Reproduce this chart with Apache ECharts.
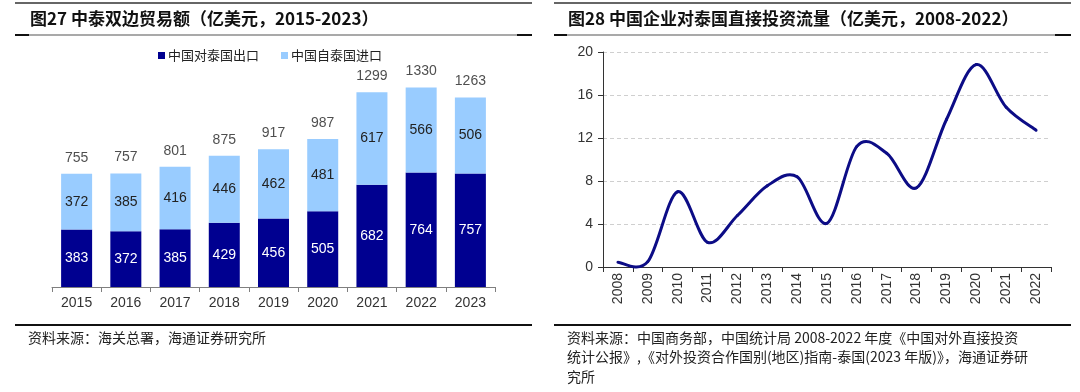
<!DOCTYPE html>
<html>
<head>
<meta charset="utf-8">
<script src="https://cdn.jsdelivr.net/npm/echarts@6/dist/echarts.min.js"></script>
<style>
html,body{margin:0;padding:0;background:#fff;}
#c{width:1080px;height:392px;}
</style>
</head>
<body>
<div id="c"></div>
<script>
// Left chart data
const tradeYears = ['2015','2016','2017','2018','2019','2020','2021','2022','2023'];
const exportToThai = [383,372,385,429,456,505,682,764,757];
const importFromThai = [372,385,416,446,462,481,617,566,506];
const tradeTotal = [755,757,801,875,917,987,1299,1330,1263];
// Right chart data
const fdiYears = ['2008','2009','2010','2011','2012','2013','2014','2015','2016','2017','2018','2019','2020','2021','2022'];
const fdiFlow = [0.45,0.50,7.00,2.30,4.79,7.55,8.39,4.07,11.22,10.58,7.37,13.72,18.83,14.86,12.72];
const fdiTicks = [0,4,8,12,16,20];

const FONT = 'Liberation Sans, Arial, "Noto Sans CJK SC", sans-serif';
const CJK = '"Noto Sans CJK SC", "Liberation Sans", sans-serif';
const chart = echarts.init(document.getElementById('c'));

function hline(x1, x2, y, color, w) {
  return {type:'line', shape:{x1:x1, y1:y, x2:x2, y2:y}, style:{stroke:color, lineWidth:w}, silent:true};
}
function txt(x, y, s, size, weight, color) {
  return {type:'text', x:x, y:y, style:{text:s, font: (weight||'normal') + ' ' + size + 'px ' + CJK, fill:color||'#222', textVerticalAlign:'middle'}, silent:true};
}

// Catmull-Rom style smoothed segment between point i and i+1 (Excel-like smoothing)
function renderSmoothSegment(params, api) {
  const i = params.dataIndex;
  const n = fdiFlow.length;
  if (i >= n - 1) return null;
  const P = k => api.coord([Math.min(Math.max(k, 0), n - 1), fdiFlow[Math.min(Math.max(k, 0), n - 1)]]);
  const p0 = P(i - 1), p1 = P(i), p2 = P(i + 1), p3 = P(i + 2);
  const t = 6;
  return {
    type:'bezierCurve',
    shape:{
      x1:p1[0], y1:p1[1], x2:p2[0], y2:p2[1],
      cpx1:p1[0] + (p2[0] - p0[0]) / t, cpy1:p1[1] + (p2[1] - p0[1]) / t,
      cpx2:p2[0] - (p3[0] - p1[0]) / t, cpy2:p2[1] - (p3[1] - p1[1]) / t
    },
    style:{stroke:'#0c0c86', lineWidth:3, fill:null, lineCap:'round'}
  };
}

const option = {
  animation:false,
  textStyle:{fontFamily:FONT},
  legend:{
    data:['中国对泰国出口','中国自泰国进口'],
    left:153, top:44,
    itemWidth:7, itemHeight:7, itemGap:22,
    icon:'rect',
    textStyle:{fontSize:13, color:'#222', fontFamily:CJK, padding:[0,0,0,-2]}
  },
  grid:[
    {left:52, right:585, top:47, bottom:105},
    {left:603, right:29, top:52, bottom:125}
  ],
  xAxis:[
    {gridIndex:0, type:'category', data:tradeYears,
     axisLine:{lineStyle:{color:'#7f7f7f', width:1}},
     axisTick:{show:true, length:5, lineStyle:{color:'#7f7f7f'}},
     axisLabel:{fontSize:14, color:'#333', margin:9, fontFamily:FONT}},
    {gridIndex:1, type:'category', data:fdiYears, boundaryGap:true,
     axisLine:{lineStyle:{color:'#333', width:1}},
     axisTick:{show:true, length:5, lineStyle:{color:'#333'}},
     axisLabel:{fontSize:14, color:'#333', rotate:90, margin:6, fontFamily:FONT}}
  ],
  yAxis:[
    {gridIndex:0, type:'value', min:0, max:1600, show:false, splitLine:{show:false}},
    {gridIndex:1, type:'value', min:fdiTicks[0], max:fdiTicks[fdiTicks.length-1], interval:4,
     axisLine:{show:true, lineStyle:{color:'#333'}},
     axisTick:{show:true, length:5, inside:false, lineStyle:{color:'#333'}},
     axisLabel:{fontSize:14, color:'#333', margin:10, fontFamily:FONT},
     splitLine:{show:true, lineStyle:{color:'#cfcfcf', type:[4,3], width:1}}}
  ],
  series:[
    {name:'中国对泰国出口', type:'bar', stack:'t', xAxisIndex:0, yAxisIndex:0,
     data:exportToThai, barWidth:31, itemStyle:{color:'#000090'},
     label:{show:true, position:'inside', color:'#fff', fontSize:14, fontFamily:FONT}},
    {name:'中国自泰国进口', type:'bar', stack:'t', xAxisIndex:0, yAxisIndex:0,
     data:importFromThai, barWidth:31, itemStyle:{color:'#99ccff'},
     label:{show:true, position:'inside', color:'#222', fontSize:14, fontFamily:FONT}},
    {name:'total', type:'scatter', xAxisIndex:0, yAxisIndex:0,
     data:tradeTotal, symbolSize:0, silent:true,
     label:{show:true, position:'top', distance:9, color:'#222', fontSize:14, fontFamily:FONT}},
    {name:'fdi', type:'custom', xAxisIndex:1, yAxisIndex:1,
     data:fdiFlow.map((v, i) => [i, v]),
     encode:{x:0, y:1},
     clip:false,
     renderItem:renderSmoothSegment}
  ],
  graphic:[
    hline(15, 532, 3, '#333', 1.5),
    hline(15, 532, 35, '#8c8c8c', 1.5),
    hline(15, 29, 35, '#111', 2),
    hline(517, 532, 35, '#111', 2),
    hline(15, 532, 325, '#111', 2),
    hline(554, 1071, 3, '#333', 1.5),
    hline(554, 1071, 35, '#8c8c8c', 1.5),
    hline(554, 567, 35, '#111', 2),
    hline(1055, 1071, 35, '#111', 2),
    hline(554, 1071, 325, '#111', 2),
    txt(30, 19, '图27 中泰双边贸易额（亿美元，2015-2023）', 17, 'bold', '#111'),
    txt(568, 19, '图28 中国企业对泰国直接投资流量（亿美元，2008-2022）', 17, 'bold', '#111'),
    txt(28, 338, '资料来源：海关总署，海通证券研究所', 14, 'normal', '#222'),
    txt(567, 338, '资料来源：中国商务部，中国统计局 2008-2022 年度《中国对外直接投资', 14, 'normal', '#222'),
    txt(567, 357, '统计公报》,《对外投资合作国别(地区)指南-泰国(2023 年版)》，海通证券研', 14, 'normal', '#222'),
    txt(567, 377, '究所', 14, 'normal', '#222')
  ]
};
chart.setOption(option);
</script>
</body>
</html>
